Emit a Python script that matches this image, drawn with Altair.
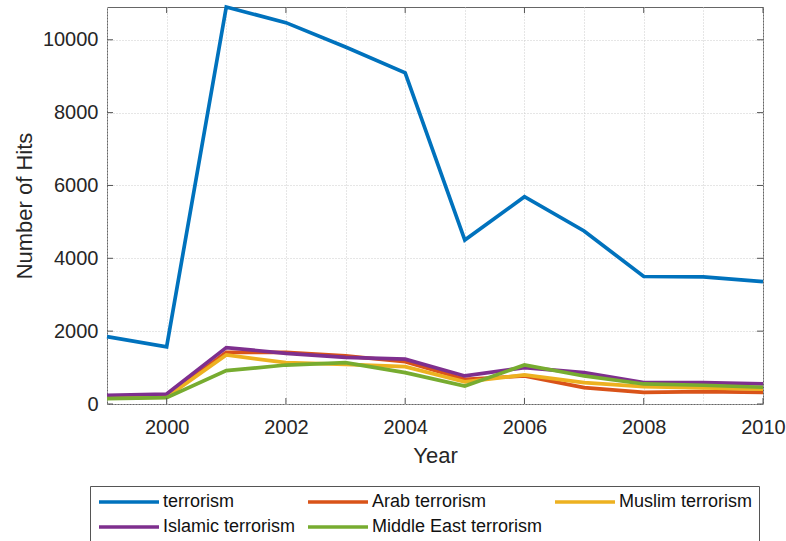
import altair as alt
import pandas as pd

# Yearly hit counts per search phrase
years = list(range(1999, 2011))
terrorism = [1850, 1570, 10900, 10470, 9800, 9090, 4500, 5690, 4750, 3500, 3490, 3360]
arab = [160, 200, 1420, 1420, 1320, 1160, 680, 770, 450, 320, 340, 320]
muslim = [165, 190, 1345, 1135, 1090, 1025, 610, 800, 585, 475, 440, 405]
islamic = [240, 275, 1550, 1390, 1280, 1230, 770, 1000, 860, 585, 585, 550]
middle_east = [145, 175, 915, 1070, 1135, 860, 495, 1070, 770, 550, 515, 460]

series_names = ["terrorism", "Arab terrorism", "Muslim terrorism",
                "Islamic terrorism", "Middle East terrorism"]
series_values = [terrorism, arab, muslim, islamic, middle_east]
series_colors = ["#0072BD", "#D95319", "#EDB120", "#7E2F8E", "#77AC30"]

# Axis tick / grid positions
x_grid = [1999 + 0.5 * i for i in range(23)]
y_grid = [500 * i for i in range(22)]
x_major = [2000, 2002, 2004, 2006, 2008, 2010]
y_major = [0, 2000, 4000, 6000, 8000, 10000]

rows = []
for order, (name, vals) in enumerate(zip(series_names, series_values)):
    for yr, v in zip(years, vals):
        rows.append({"Year": yr, "Hits": v, "Series": name, "order": order})
df = pd.DataFrame(rows)

W, H = 656, 397
FONT = "Liberation Sans"
TXT = "#262626"
GRID = "#cdcdcd"

x_scale = alt.Scale(domain=[1999, 2010], nice=False, zero=False)
y_scale = alt.Scale(domain=[0, 10900], nice=False, zero=True)

x_axis = alt.Axis(
    values=x_grid, labelExpr="datum.value % 2 == 0 ? datum.label : ''",
    format="d", grid=True, gridColor=GRID, gridDash=[1, 2], gridWidth=1,
    ticks=False, domain=False, labelOverlap=False, labelFlush=False,
    labelFont=FONT, labelFontSize=20, labelColor=TXT, labelPadding=13,
    title="Year", titleFont=FONT, titleFontSize=22, titleColor=TXT,
    titleFontWeight="normal", titleX=W / 2, titleY=58,
    titleBaseline="alphabetic", titleAlign="center",
)
y_axis = alt.Axis(
    values=y_grid, labelExpr="datum.value % 2000 == 0 ? datum.label : ''",
    format="d", grid=True, gridColor=GRID, gridDash=[1, 2], gridWidth=1,
    ticks=False, domain=False, labelOverlap=False, labelFlush=False,
    labelFont=FONT, labelFontSize=20, labelColor=TXT, labelPadding=9,
    title="Number of Hits", titleFont=FONT, titleFontSize=22, titleColor=TXT,
    titleFontWeight="normal", titleX=-83, titleY=H / 2, titleAngle=270,
    titleBaseline="middle", titleAlign="center",
)

lines = alt.Chart(df).mark_line(strokeWidth=3.7).encode(
    x=alt.X("Year:Q", scale=x_scale, axis=x_axis),
    y=alt.Y("Hits:Q", scale=y_scale, axis=y_axis),
    color=alt.Color(
        "Series:N",
        sort=series_names,
        scale=alt.Scale(domain=series_names, range=series_colors),
        legend=alt.Legend(
            title=None, orient="none", legendX=-17, legendY=479,
            direction="horizontal", columns=3, columnPadding=10, rowPadding=7,
            symbolType="stroke", symbolSize=3600, symbolStrokeWidth=3.7,
            clipHeight=18,
            labelFont=FONT, labelFontSize=18, labelColor="#111111", labelOffset=2,
            padding=7, strokeColor="#555555", fillColor="white",
            labelLimit=400,
        ),
    ),
    order=alt.Order("order:Q"),
)

# Inward tick marks on all four sides of the box
xt = pd.DataFrame({"Year": x_major})
yt = pd.DataFrame({"Hits": y_major})
tick_color = "#555555"
x_ticks_bottom = alt.Chart(xt).mark_rule(color=tick_color, strokeWidth=1).encode(
    x=alt.X("Year:Q", scale=x_scale), y=alt.value(H), y2=alt.value(H - 6))
x_ticks_top = alt.Chart(xt).mark_rule(color=tick_color, strokeWidth=1).encode(
    x=alt.X("Year:Q", scale=x_scale), y=alt.value(0), y2=alt.value(6))
y_ticks_left = alt.Chart(yt).mark_rule(color=tick_color, strokeWidth=1).encode(
    y=alt.Y("Hits:Q", scale=y_scale), x=alt.value(0), x2=alt.value(6))
y_ticks_right = alt.Chart(yt).mark_rule(color=tick_color, strokeWidth=1).encode(
    y=alt.Y("Hits:Q", scale=y_scale), x=alt.value(W - 6), x2=alt.value(W))

chart = alt.layer(
    lines, x_ticks_bottom, x_ticks_top, y_ticks_left, y_ticks_right
).properties(
    width=W, height=H,
    autosize=alt.AutoSizeParams(type="none"),
    padding={"left": 107, "top": 7, "right": 23, "bottom": 137},
    background="white",
).configure_view(
    stroke="#666666", strokeWidth=1,
)

chart.save("out.html", embed_options={"renderer": "svg", "actions": False})
